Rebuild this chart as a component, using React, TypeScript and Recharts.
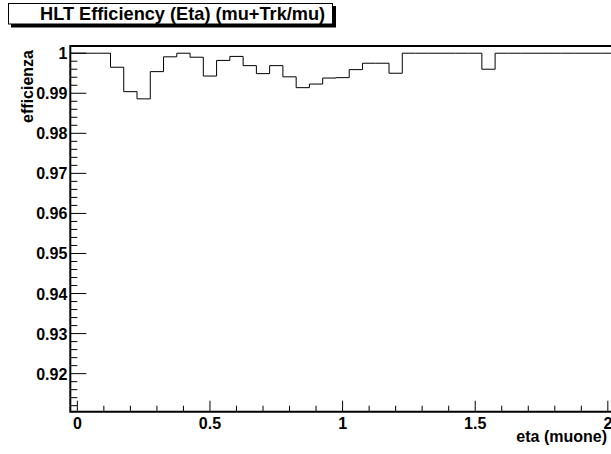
import React from "react";
import { LineChart, Line, XAxis, YAxis, ReferenceArea } from "recharts";

// bin low edges (last entry = upper edge of the last bin), width 0.05
const binEdges = [
  -0.025, 0.025, 0.075, 0.125, 0.175, 0.225, 0.275, 0.325, 0.375, 0.425,
  0.475, 0.525, 0.575, 0.625, 0.675, 0.725, 0.775, 0.825, 0.875, 0.925,
  0.975, 1.025, 1.075, 1.125, 1.175, 1.225, 1.275, 1.325, 1.375, 1.425,
  1.475, 1.525, 1.575, 1.625, 1.675, 1.725, 1.775, 1.825, 1.875, 1.925,
  1.975, 2.025, 2.075,
];

const efficiency = [
  1.0, 1.0, 1.0, 0.9965, 0.9904, 0.9886, 0.9954, 0.9991, 1.0, 0.999,
  0.9943, 0.9982, 0.9992, 0.9969, 0.9949, 0.9969, 0.9941, 0.9914, 0.9923, 0.9938,
  0.9939, 0.9959, 0.9975, 0.9975, 0.995, 1.0, 1.0, 1.0, 1.0, 1.0,
  1.0, 0.996, 1.0, 1.0, 1.0, 1.0, 1.0, 1.0, 1.0, 1.0,
  1.0, 1.0,
];

const xMajor = [0, 0.5, 1, 1.5, 2];
const xLabels = ["0", "0.5", "1", "1.5", "2"];
const yMajor = [0.92, 0.93, 0.94, 0.95, 0.96, 0.97, 0.98, 0.99, 1];
const yLabels = ["0.92", "0.93", "0.94", "0.95", "0.96", "0.97", "0.98", "0.99", "1"];

const X_MIN = -0.0265;
const X_MAX = 2.125;
const Y_MIN = 0.9105;
const Y_MAX = 1.0018;

// minor ticks: every 0.1 in eta, every 0.002 in efficiency
const xTicks: number[] = [];
for (let i = 0; i <= 21; i++) xTicks.push(i / 10);
const yTicks: number[] = [];
for (let i = 456; i <= 500; i++) yTicks.push((i * 2) / 1000);

const data = binEdges.map((e, i) => ({
  eta: e,
  eff: efficiency[Math.min(i, efficiency.length - 1)],
}));

const FONT = '"Liberation Sans", Arial, Helvetica, sans-serif';

const near = (a: number, b: number) => Math.abs(a - b) < 1e-9;

function XTick(props: any) {
  const { x, y, payload } = props;
  const idx = xMajor.findIndex((m) => near(m, payload.value));
  const major = idx >= 0;
  return (
    <g>
      <line x1={x} x2={x} y1={y} y2={y - (major ? 11 : 6)} stroke="#000" strokeWidth={1} />
      {major && (
        <text x={x} y={y + 17} textAnchor="middle" fontFamily={FONT} fontWeight="bold" fontSize={16} fill="#000">
          {xLabels[idx]}
        </text>
      )}
    </g>
  );
}

function YTick(props: any) {
  const { x, y, payload } = props;
  const idx = yMajor.findIndex((m) => near(m, payload.value));
  const major = idx >= 0;
  return (
    <g>
      <line x1={x} x2={x + (major ? 16 : 7)} y1={y} y2={y} stroke="#000" strokeWidth={1} />
      {major && (
        <text x={x - 3} y={y + 6} textAnchor="end" fontFamily={FONT} fontWeight="bold" fontSize={16} fill="#000">
          {yLabels[idx]}
        </text>
      )}
    </g>
  );
}

export default function App() {
  return (
    <div
      style={{
        position: "fixed",
        left: 0,
        top: 0,
        width: 611,
        height: 454,
        overflow: "hidden",
        background: "#fff",
      }}
    >
      <LineChart
        width={660}
        height={454}
        data={data}
        margin={{ top: 46, right: 19, bottom: 41.3, left: 69.3 }}
      >
        <XAxis
          dataKey="eta"
          type="number"
          domain={[X_MIN, X_MAX]}
          allowDataOverflow
          ticks={xTicks}
          interval={0}
          height={1}
          tickSize={0}
          tickMargin={0}
          axisLine={false}
          tickLine={false}
          tick={XTick}
        />
        <YAxis
          type="number"
          domain={[Y_MIN, Y_MAX]}
          allowDataOverflow
          ticks={yTicks}
          interval={0}
          width={1}
          tickSize={0}
          tickMargin={0}
          axisLine={false}
          tickLine={false}
          tick={YTick}
        />
        <Line
          type="stepAfter"
          dataKey="eff"
          stroke="#000"
          strokeWidth={1}
          dot={false}
          activeDot={false}
          isAnimationActive={false}
        />
        <ReferenceArea
          x1={X_MIN}
          x2={X_MAX}
          y1={Y_MIN}
          y2={Y_MAX}
          fill="none"
          fillOpacity={0}
          stroke="#000"
          strokeWidth={2}
        />
      </LineChart>

      <svg
        width={611}
        height={454}
        style={{ position: "absolute", left: 0, top: 0, pointerEvents: "none" }}
      >
        <rect x={11} y={6} width={325} height={21.5} fill="#000" />
        <rect x={8.5} y={3.5} width={324} height={20.5} fill="#fff" stroke="#000" strokeWidth={1} />
        <text x={40} y={19.5} fontFamily={FONT} fontWeight="bold" fontSize={18.2} fill="#000">
          HLT Efficiency (Eta) (mu+Trk/mu)
        </text>
        <text
          transform="translate(33,50) rotate(-90)"
          textAnchor="end"
          fontFamily={FONT}
          fontWeight="bold"
          fontSize={16}
          fill="#000"
        >
          efficienza
        </text>
        <text x={607} y={442} textAnchor="end" fontFamily={FONT} fontWeight="bold" fontSize={16} fill="#000">
          eta (muone)
        </text>
      </svg>
    </div>
  );
}
